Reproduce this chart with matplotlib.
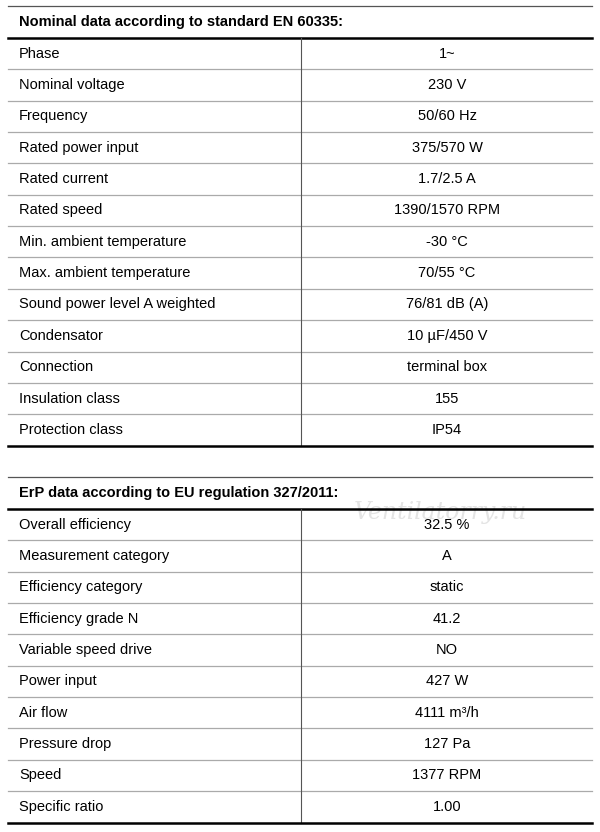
import matplotlib.pyplot as plt

plt.rcParams['font.family'] = ['Liberation Sans', 'DejaVu Sans']

TITLE1 = "Nominal data according to standard EN 60335:"
LABELS1 = ["Phase", "Nominal voltage", "Frequency", "Rated power input", "Rated current",
           "Rated speed", "Min. ambient temperature", "Max. ambient temperature",
           "Sound power level A weighted", "Condensator", "Connection",
           "Insulation class", "Protection class"]
VALUES1 = ["1~", "230 V", "50/60 Hz", "375/570 W", "1.7/2.5 A", "1390/1570 RPM",
           "-30 °C", "70/55 °C", "76/81 dB (A)", "10 µF/450 V", "terminal box",
           "155", "IP54"]

TITLE2 = "ErP data according to EU regulation 327/2011:"
LABELS2 = ["Overall efficiency", "Measurement category", "Efficiency category",
           "Efficiency grade N", "Variable speed drive", "Power input", "Air flow",
           "Pressure drop", "Speed", "Specific ratio"]
VALUES2 = ["32.5 %", "A", "static", "41.2", "NO", "427 W", "4111 m³/h",
           "127 Pa", "1377 RPM", "1.00"]

W, H = 600, 832
X0, X1, XMID, XVAL = 8, 592, 301, 447
ROW = 31.35

fig = plt.figure(figsize=(W / 100, H / 100), dpi=100)
ax = fig.add_axes([0, 0, 1, 1])
ax.set_xlim(0, W)
ax.set_ylim(H, 0)
ax.axis('off')


def draw_table(top, title, labels, values):
    ax.plot([X0, X1], [top, top], color='#555555', lw=0.9)
    ax.text(19, top + 16, title, fontsize=10.5, fontweight='bold', va='center', ha='left')
    head = top + 32
    ax.plot([X0, X1], [head, head], color='black', lw=1.8)
    for i, (lab, val) in enumerate(zip(labels, values)):
        yc = head + ROW * (i + 0.5)
        ax.text(19, yc, lab, fontsize=10.5, va='center', ha='left')
        ax.text(XVAL, yc, val, fontsize=10.5, va='center', ha='center')
        if i < len(labels) - 1:
            ax.plot([X0, X1], [head + ROW * (i + 1)] * 2, color='#aaaaaa', lw=0.9)
    bottom = head + ROW * len(labels)
    ax.plot([XMID, XMID], [head, bottom], color='#555555', lw=0.8)
    ax.plot([X0, X1], [bottom, bottom], color='black', lw=1.8)


draw_table(6, TITLE1, LABELS1, VALUES1)
draw_table(477, TITLE2, LABELS2, VALUES2)

ax.text(440, 512, "Ventilatorry.ru", fontsize=17, style='italic', color='#e4e4e4',
        ha='center', va='center', family=['DejaVu Serif'], zorder=0)

fig.savefig("out.png", dpi=100)
